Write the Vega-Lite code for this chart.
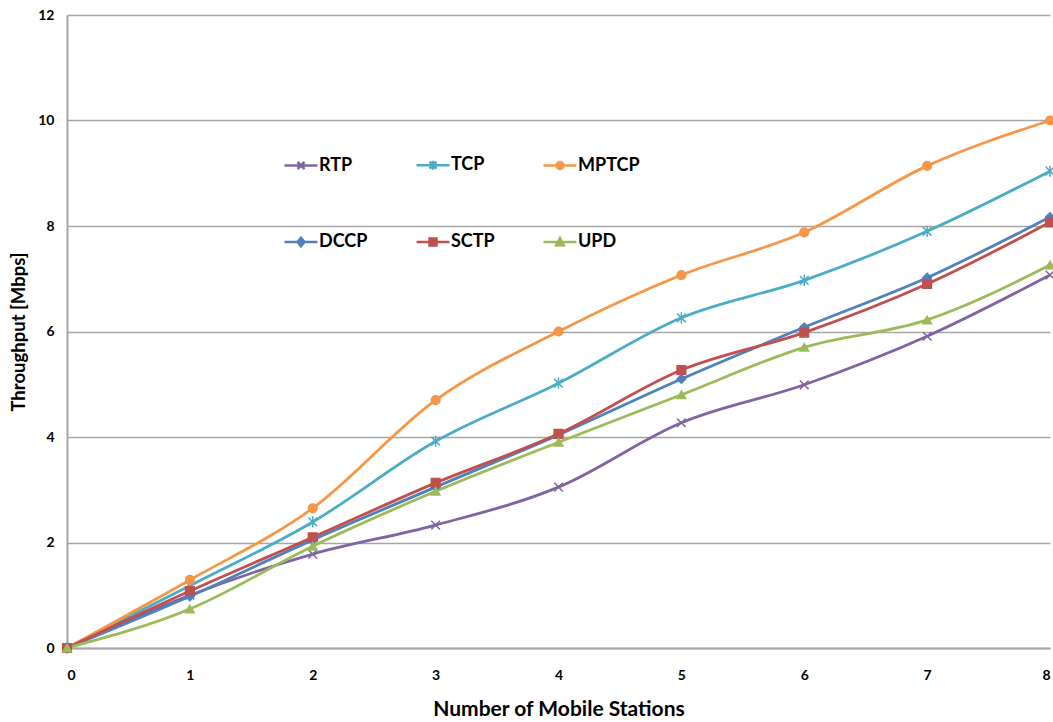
{
  "$schema": "https://vega.github.io/schema/vega-lite/v6.json",
  "width": 983,
  "height": 633,
  "autosize": {"type": "none"},
  "padding": {"left": 67, "top": 15, "right": 3, "bottom": 74},
  "background": "white",
  "config": {
    "view": {"stroke": null},
    "font": "Lato, Liberation Sans, sans-serif"
  },
  "data": {
    "values": [
      {"x": 0, "series": "RTP", "y": 0}, {"x": 1, "series": "RTP", "y": 1.0}, {"x": 2, "series": "RTP", "y": 1.78}, {"x": 3, "series": "RTP", "y": 2.33}, {"x": 4, "series": "RTP", "y": 3.05}, {"x": 5, "series": "RTP", "y": 4.27}, {"x": 6, "series": "RTP", "y": 4.99}, {"x": 7, "series": "RTP", "y": 5.91}, {"x": 8, "series": "RTP", "y": 7.07},
      {"x": 0, "series": "TCP", "y": 0}, {"x": 1, "series": "TCP", "y": 1.18}, {"x": 2, "series": "TCP", "y": 2.39}, {"x": 3, "series": "TCP", "y": 3.92}, {"x": 4, "series": "TCP", "y": 5.02}, {"x": 5, "series": "TCP", "y": 6.26}, {"x": 6, "series": "TCP", "y": 6.97}, {"x": 7, "series": "TCP", "y": 7.9}, {"x": 8, "series": "TCP", "y": 9.04},
      {"x": 0, "series": "MPTCP", "y": 0}, {"x": 1, "series": "MPTCP", "y": 1.29}, {"x": 2, "series": "MPTCP", "y": 2.65}, {"x": 3, "series": "MPTCP", "y": 4.7}, {"x": 4, "series": "MPTCP", "y": 6.0}, {"x": 5, "series": "MPTCP", "y": 7.07}, {"x": 6, "series": "MPTCP", "y": 7.88}, {"x": 7, "series": "MPTCP", "y": 9.14}, {"x": 8, "series": "MPTCP", "y": 10.0},
      {"x": 0, "series": "DCCP", "y": 0}, {"x": 1, "series": "DCCP", "y": 0.98}, {"x": 2, "series": "DCCP", "y": 2.05}, {"x": 3, "series": "DCCP", "y": 3.05}, {"x": 4, "series": "DCCP", "y": 4.04}, {"x": 5, "series": "DCCP", "y": 5.1}, {"x": 6, "series": "DCCP", "y": 6.08}, {"x": 7, "series": "DCCP", "y": 7.02}, {"x": 8, "series": "DCCP", "y": 8.17},
      {"x": 0, "series": "SCTP", "y": 0}, {"x": 1, "series": "SCTP", "y": 1.08}, {"x": 2, "series": "SCTP", "y": 2.1}, {"x": 3, "series": "SCTP", "y": 3.13}, {"x": 4, "series": "SCTP", "y": 4.06}, {"x": 5, "series": "SCTP", "y": 5.27}, {"x": 6, "series": "SCTP", "y": 5.98}, {"x": 7, "series": "SCTP", "y": 6.9}, {"x": 8, "series": "SCTP", "y": 8.07},
      {"x": 0, "series": "UPD", "y": 0}, {"x": 1, "series": "UPD", "y": 0.74}, {"x": 2, "series": "UPD", "y": 1.93}, {"x": 3, "series": "UPD", "y": 2.97}, {"x": 4, "series": "UPD", "y": 3.9}, {"x": 5, "series": "UPD", "y": 4.8}, {"x": 6, "series": "UPD", "y": 5.7}, {"x": 7, "series": "UPD", "y": 6.22}, {"x": 8, "series": "UPD", "y": 7.26}
    ]
  },
  "encoding": {
    "x": {
      "field": "x", "type": "quantitative",
      "scale": {"domain": [0, 8], "nice": false},
      "axis": {
        "values": [0, 1, 2, 3, 4, 5, 6, 7, 8],
        "title": "Number of Mobile Stations",
        "titleFontSize": 21, "titleFontWeight": "bold", "titleColor": "#000000", "titlePadding": 16,
        "labelFontSize": 14, "labelFontWeight": "bold", "labelColor": "#000000", "labelPadding": 20,
        "ticks": false, "grid": false,
        "domainColor": "#a6a6a6", "domainWidth": 2
      }
    },
    "y": {
      "field": "y", "type": "quantitative",
      "scale": {"domain": [0, 12], "nice": false},
      "axis": {
        "values": [0, 2, 4, 6, 8, 10, 12],
        "title": "Throughput [Mbps]",
        "titleFontSize": 18.5, "titleFontWeight": "bold", "titleColor": "#000000", "titlePadding": 9,
        "labelFontSize": 14, "labelFontWeight": "bold", "labelColor": "#000000", "labelPadding": 13,
        "ticks": false, "grid": true, "gridColor": "#a6a6a6", "gridWidth": 1.5,
        "domainColor": "#a6a6a6", "domainWidth": 2
      }
    }
  },
  "layer": [
    {
      "mark": {"type": "line", "interpolate": "monotone", "strokeWidth": 2.8},
      "encoding": {
        "color": {
          "field": "series", "type": "nominal",
          "scale": {"domain": ["RTP", "TCP", "MPTCP", "DCCP", "SCTP", "UPD"], "range": ["#8064A2", "#4BACC6", "#F79646", "#4F81BD", "#C0504D", "#9BBB59"]},
          "legend": null
        }
      }
    },
    {
      "mark": {"type": "point", "filled": true, "size": 75, "strokeWidth": 1.5, "opacity": 1},
      "encoding": {
        "fill": {
          "field": "series", "type": "nominal",
          "scale": {"domain": ["RTP", "TCP", "MPTCP", "DCCP", "SCTP", "UPD"], "range": ["#8064A2", "#4BACC6", "#F79646", "#4F81BD", "#C0504D", "#9BBB59"]},
          "legend": null
        },
        "stroke": {
          "field": "series", "type": "nominal",
          "scale": {"domain": ["RTP", "TCP", "MPTCP", "DCCP", "SCTP", "UPD"], "range": ["#8064A2", "#4BACC6", "#F79646", "#4F81BD", "#C0504D", "#9BBB59"]},
          "legend": null
        },
        "shape": {
          "field": "series", "type": "nominal",
          "scale": {"domain": ["RTP", "TCP", "MPTCP", "DCCP", "SCTP", "UPD"], "range": ["M-1,-1L1,1M-1,1L1,-1", "M-1,-1L1,1M-1,1L1,-1M0,-1.3L0,1.3", "circle", "diamond", "square", "triangle-up"]},
          "legend": null
        }
      }
    },
    {
      "transform": [{"filter": "datum.x > 100"}],
      "mark": {"type": "point", "filled": true, "size": 49, "opacity": 1},
      "encoding": {
        "fill": {
          "field": "series", "type": "nominal",
          "scale": {"domain": ["RTP", "TCP", "MPTCP", "DCCP", "SCTP", "UPD"], "range": ["#8064A2", "#4BACC6", "#F79646", "#4F81BD", "#C0504D", "#9BBB59"]},
          "legend": {
            "orient": "none", "legendX": 225, "legendY": 141, "direction": "horizontal", "columns": 3,
            "title": null, "labelFontSize": 18, "labelFontWeight": "bold", "labelColor": "#000000",
            "symbolSize": 49, "symbolStrokeWidth": 2.5, "labelOffset": 9, "columnPadding": 43, "rowPadding": 57,
            "symbolOpacity": 1
          }
        },
        "stroke": {
          "field": "series", "type": "nominal",
          "scale": {"domain": ["RTP", "TCP", "MPTCP", "DCCP", "SCTP", "UPD"], "range": ["#8064A2", "#4BACC6", "#F79646", "#4F81BD", "#C0504D", "#9BBB59"]},
          "legend": {
            "orient": "none", "legendX": 225, "legendY": 141, "direction": "horizontal", "columns": 3,
            "title": null, "labelFontSize": 18, "labelFontWeight": "bold", "labelColor": "#000000",
            "symbolSize": 49, "symbolStrokeWidth": 2.5, "labelOffset": 9, "columnPadding": 43, "rowPadding": 57,
            "symbolOpacity": 1
          }
        },
        "shape": {
          "field": "series", "type": "nominal",
          "scale": {"domain": ["RTP", "TCP", "MPTCP", "DCCP", "SCTP", "UPD"], "range": [
            "M-4.7,0H4.7M-1,-1L1,1M-1,1L1,-1",
            "M-4.7,0H4.7M-1,-1L1,1M-1,1L1,-1M0,-1.3V1.3",
            "M-4.7,0H4.7M-1,0A1,1,0,1,1,1,0A1,1,0,1,1,-1,0Z",
            "M-4.7,0H4.7M0,-1.2L1,0L0,1.2L-1,0Z",
            "M-4.7,0H4.7M-1,-1H1V1H-1Z",
            "M-4.7,0H4.7M0,-1.1L1.1,0.9H-1.1Z"
          ]},
          "legend": {
            "orient": "none", "legendX": 225, "legendY": 141, "direction": "horizontal", "columns": 3,
            "title": null, "labelFontSize": 18, "labelFontWeight": "bold", "labelColor": "#000000",
            "symbolSize": 49, "symbolStrokeWidth": 2.5, "labelOffset": 9, "columnPadding": 43, "rowPadding": 57,
            "symbolOpacity": 1
          }
        }
      }
    }
  ],
  "resolve": {"scale": {"shape": "independent", "fill": "independent", "stroke": "independent"}}
}
